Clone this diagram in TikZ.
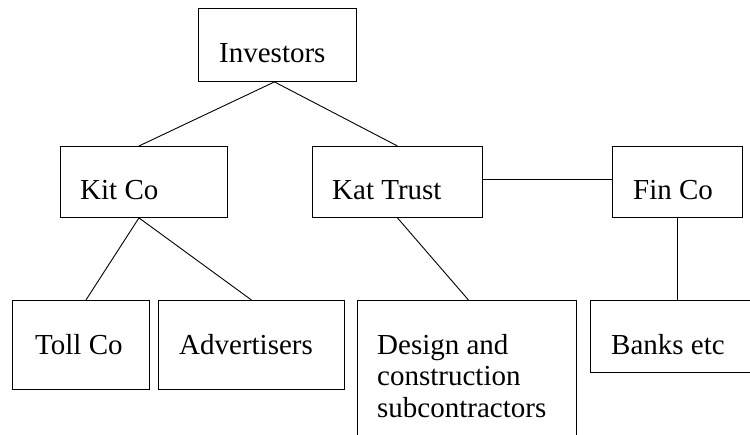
\documentclass[tikz,border=0pt]{standalone}
\usepackage{fontspec}
\setmainfont{Liberation Serif}
\newfontfamily\tmsfont{Liberation Serif}
\begin{document}
\begin{tikzpicture}[x=1pt,y=-1pt,
  box/.style={draw,rectangle,line width=0.9pt,inner sep=0pt,anchor=north west},
  conn/.style={line width=0.9pt}]
\useasboundingbox (0,0) rectangle (750,434);
% labels
\node[anchor=base west,inner sep=0pt,font=\tmsfont\fontsize{29}{32}\selectfont] (tinv) at (219,62) {Investors};
\node[anchor=base west,inner sep=0pt,font=\tmsfont\fontsize{29}{32}\selectfont] (tkit) at (80,199) {Kit Co};
\node[anchor=base west,inner sep=0pt,font=\tmsfont\fontsize{29}{32}\selectfont] (tkat) at (332,199) {Kat Trust};
\node[anchor=base west,inner sep=0pt,font=\tmsfont\fontsize{29}{32}\selectfont] (tfin) at (633,199) {Fin Co};
\node[anchor=base west,inner sep=0pt,font=\tmsfont\fontsize{29}{32}\selectfont] (ttoll) at (35,354) {Toll Co};
\node[anchor=base west,inner sep=0pt,font=\tmsfont\fontsize{29}{32}\selectfont] (tadv) at (179,354) {Advertisers};
\node[anchor=base west,inner sep=0pt,font=\tmsfont\fontsize{29}{32}\selectfont] (tdes1) at (377,354) {Design and};
\node[anchor=base west,inner sep=0pt,font=\tmsfont\fontsize{29}{32}\selectfont] (tdes2) at (377,385) {construction};
\node[anchor=base west,inner sep=0pt,font=\tmsfont\fontsize{29}{32}\selectfont] (tdes3) at (377,417) {subcontractors};
\node[anchor=base west,inner sep=0pt,font=\tmsfont\fontsize{29}{32}\selectfont] (tbank) at (611,354) {Banks etc};
\begin{scope}
\clip (0,0) rectangle (750,434);
% boxes
\node[box,minimum width=158pt,minimum height=73pt] (inv) at (198,8) {};
\node[box,minimum width=167pt,minimum height=71pt] (kit) at (60,146) {};
\node[box,minimum width=170pt,minimum height=71pt] (kat) at (312,146) {};
\node[box,minimum width=130pt,minimum height=71pt] (fin) at (612,146) {};
\node[box,minimum width=137pt,minimum height=89pt] (toll) at (12,300) {};
\node[box,minimum width=186pt,minimum height=89pt] (adv) at (158,300) {};
\node[box,minimum width=219pt,minimum height=170pt] (des) at (357,300) {};
\node[box,minimum width=180pt,minimum height=72pt] (bank) at (590,300) {};
% connectors
\draw[conn] ([xshift=-3pt]inv.south) -- ([xshift=-5pt]kit.north);
\draw[conn] ([xshift=-3pt]inv.south) -- (kat.north);
\draw[conn] ([yshift=2.5pt]kat.east) -- ([yshift=2.5pt]fin.west);
\draw[conn] ([xshift=-5pt]kit.south) -- ([xshift=5pt]toll.north);
\draw[conn] ([xshift=-5pt]kit.south) -- (adv.north);
\draw[conn] (kat.south) -- ([xshift=1.5pt]des.north);
\draw[conn] (fin.south) -- (fin.south |- bank.north);
\end{scope}
\end{tikzpicture}
\end{document}
